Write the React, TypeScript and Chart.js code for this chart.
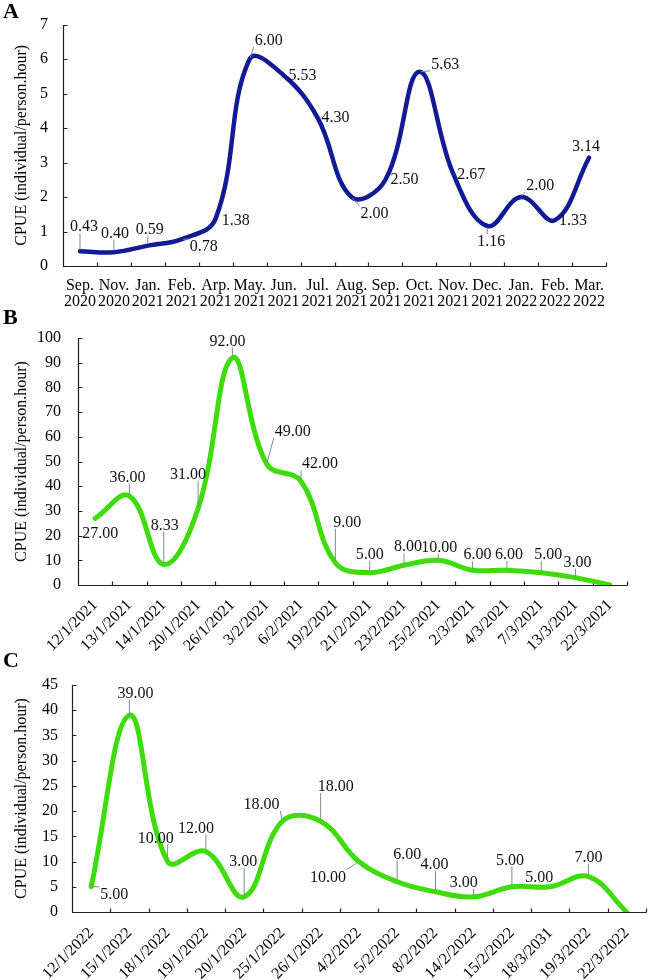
import React, { useEffect, useRef } from 'react';
import { Chart, registerables } from 'chart.js';

Chart.register(...registerables);

const FONT = '"Liberation Serif", "Times New Roman", Times, serif';
const Y_TITLE = 'CPUE (individual/person.hour)';

// ---------- Panel A ----------
const monthsA: string[][] = [
  ['Sep.', '2020'], ['Nov.', '2020'], ['Jan.', '2021'], ['Feb.', '2021'],
  ['Arp.', '2021'], ['May.', '2021'], ['Jun.', '2021'], ['Jul.', '2021'],
  ['Aug.', '2021'], ['Sep.', '2021'], ['Oct.', '2021'], ['Nov.', '2021'],
  ['Dec.', '2021'], ['Jan.', '2022'], ['Feb.', '2022'], ['Mar.', '2022'],
];
const cpueA = [0.43, 0.40, 0.59, 0.78, 1.38, 6.00, 5.53, 4.30, 2.00, 2.50, 5.63, 2.67, 1.16, 2.00, 1.33, 3.14];
const textA = ['0.43', '0.40', '0.59', '0.78', '1.38', '6.00', '5.53', '4.30', '2.00', '2.50', '5.63', '2.67', '1.16', '2.00', '1.33', '3.14'];

// ---------- Panel B ----------
const datesB = [
  '12/1/2021', '13/1/2021', '14/1/2021', '20/1/2021', '26/1/2021', '3/2/2021', '6/2/2021', '19/2/2021',
  '21/2/2021', '23/2/2021', '25/2/2021', '2/3/2021', '4/3/2021', '7/3/2021', '13/3/2021', '22/3/2021',
];
const cpueB = [27, 36, 8.33, 31, 92, 49, 42, 9, 5, 8, 10, 6, 6, 5, 3, 0];
const textB = ['27.00', '36.00', '8.33', '31.00', '92.00', '49.00', '42.00', '9.00', '5.00', '8.00', '10.00', '6.00', '6.00', '5.00', '3.00', ''];

// ---------- Panel C ----------
const datesC = [
  '12/1/2022', '15/1/2022', '18/1/2022', '19/1/2022', '20/1/2022', '25/1/2022', '26/1/2022', '4/2/2022',
  '5/2/2022', '8/2/2022', '14/2/2022', '15/2/2022', '18/3/2031', '19/3/2022', '22/3/2022',
];
const cpueC = [5, 39, 10, 12, 3, 18, 18, 10, 6, 4, 3, 5, 5, 7, 0];
const textC = ['5.00', '39.00', '10.00', '12.00', '3.00', '18.00', '18.00', '10.00', '6.00', '4.00', '3.00', '5.00', '5.00', '7.00', ''];

// label placement (pixel offsets of label centre from its point) and leader flags
const offsetsA = [[4, -25], [1, -19], [2, -17], [22, 7], [20, 1], [19, -19], [19, 0], [18, -1], [23, 16], [19, -1], [26, -8], [18, 0], [4, 15], [19, -12], [18, 0], [-3, -12]];
const leadersA = [1, 1, 1, 1, 0, 1, 0, 0, 1, 0, 1, 0, 1, 1, 0, 0];
const offsetsB = [[5, 14], [-2, -19], [1, -40], [-10, -35], [-5, -17], [26, -33], [19, -18], [12, -41], [0, -19], [4, -19], [1, -14], [5, -16], [2, -16], [7, -19], [2, -16], [0, 0]];
const leadersB = [0, 1, 1, 1, 1, 1, 1, 1, 1, 1, 1, 1, 1, 1, 1, 0];
const offsetsC = [[23, 7], [6, -22], [-12, -24], [-10, -24], [-1, -36], [-21, -17], [15, -35], [-31, 15], [10, -28], [-1, -28], [-10, -15], [-2, -27], [-11, -10], [0, -20], [0, 0]];
const leadersC = [1, 1, 1, 1, 1, 1, 1, 1, 1, 1, 1, 1, 0, 1, 0];

const axesPlugin = {
  id: 'excelAxes',
  beforeDatasetsDraw(chart: any) {
    const { ctx, chartArea } = chart;
    const xs = chart.scales.x;
    const ys = chart.scales.y;
    const L = Math.round(chartArea.left) + 0.5;
    const B = Math.round(chartArea.bottom) + 0.5;
    const R = Math.round(chartArea.right) + 0.5;
    const T = Math.round(chartArea.top);
    ctx.save();
    ctx.strokeStyle = '#222';
    ctx.lineWidth = 1.2;
    ctx.beginPath();
    ctx.moveTo(L, T);
    ctx.lineTo(L, B);
    ctx.lineTo(R, B);
    ctx.stroke();
    ctx.beginPath();
    ys.ticks.forEach((t: any) => {
      if (t.value === 0) return;
      const y = Math.round(ys.getPixelForValue(t.value)) + 0.5;
      ctx.moveTo(L, y);
      ctx.lineTo(L + 4, y);
    });
    const n = chart.data.labels.length;
    const step = n > 1 ? xs.getPixelForValue(1) - xs.getPixelForValue(0) : xs.width;
    for (let k = 1; k <= n; k++) {
      const x = Math.round(xs.getPixelForValue(k - 1) + step / 2) + 0.5;
      ctx.moveTo(x, B);
      ctx.lineTo(x, B - 4);
    }
    ctx.stroke();
    ctx.restore();
  },
};

const labelPlugin = {
  id: 'ptLabels',
  afterDatasetsDraw(chart: any, _args: any, opts: any) {
    const meta = chart.getDatasetMeta(0);
    const ctx = chart.ctx;
    ctx.save();
    ctx.font = `16px ${FONT}`;
    ctx.textAlign = 'center';
    ctx.textBaseline = 'middle';
    (opts.texts as string[]).forEach((t, i) => {
      if (!t) return;
      const p = meta.data[i];
      const [dx, dy] = opts.offsets[i];
      const cx = p.x + dx;
      const cy = p.y + dy;
      const w = ctx.measureText(t).width;
      const h = 12;
      if (opts.leaders[i]) {
        const bx = Math.max(cx - w / 2 - 1, Math.min(p.x, cx + w / 2 + 1));
        const by = Math.max(cy - h / 2 - 1, Math.min(p.y, cy + h / 2 + 1));
        const vx = p.x - bx;
        const vy = p.y - by;
        const d = Math.hypot(vx, vy);
        if (d > 3) {
          ctx.strokeStyle = '#7d8a90';
          ctx.lineWidth = 1;
          ctx.beginPath();
          ctx.moveTo(bx, by);
          ctx.lineTo(p.x - (vx / d) * 1.5, p.y - (vy / d) * 1.5);
          ctx.stroke();
        }
      }
      ctx.fillStyle = '#111';
      ctx.fillText(t, cx, cy + 1);
    });
    ctx.restore();
  },
};

type Cfg = {
  labels: any[];
  data: number[];
  color: string;
  lineWidth: number;
  max: number;
  step: number;
  rotate: number;
  yWidth: number;
  xHeight: number;
  padTop: number;
  padRight: number;
  yTickPad: number;
  xTickPad: number;
  texts: string[];
  offsets: number[][];
  leaders: number[];
};

function makeConfig(p: Cfg): any {
  return {
    type: 'line',
    data: {
      labels: p.labels,
      datasets: [
        {
          data: p.data,
          borderColor: p.color,
          borderWidth: p.lineWidth,
          tension: 0.4,
          pointRadius: 0,
          fill: false,
          borderCapStyle: 'round',
          borderJoinStyle: 'round',
        },
      ],
    },
    options: {
      responsive: false,
      animation: false,
      devicePixelRatio: 1,
      layout: { padding: { top: p.padTop, right: p.padRight, left: 0, bottom: 0 } },
      plugins: {
        legend: { display: false },
        tooltip: { enabled: false },
        ptLabels: { texts: p.texts, offsets: p.offsets, leaders: p.leaders },
      },
      scales: {
        x: {
          type: 'category',
          offset: true,
          grid: { display: false, drawTicks: false },
          border: { display: false },
          ticks: {
            autoSkip: false,
            maxRotation: p.rotate,
            minRotation: p.rotate,
            color: '#000',
            font: { family: FONT, size: 16, lineHeight: 1 },
            padding: p.xTickPad,
          },
          afterFit: (s: any) => {
            s.height = p.xHeight;
          },
        },
        y: {
          min: 0,
          max: p.max,
          grid: { display: false, drawTicks: false },
          border: { display: false },
          ticks: { stepSize: p.step, color: '#000', font: { family: FONT, size: 16 }, padding: p.yTickPad },
          title: {
            display: true,
            text: Y_TITLE,
            color: '#000',
            font: { family: FONT, size: 16, lineHeight: 1.2 },
            padding: { top: 12, bottom: 0 },
          },
          afterFit: (s: any) => {
            s.width = p.yWidth;
          },
        },
      },
    },
    plugins: [axesPlugin, labelPlugin],
  };
}

function Panel({ top, height, cfg }: { top: number; height: number; cfg: Cfg }) {
  const ref = useRef<HTMLCanvasElement>(null);
  useEffect(() => {
    const chart = new Chart(ref.current as HTMLCanvasElement, makeConfig(cfg));
    return () => chart.destroy();
  }, []);
  return (
    <canvas
      ref={ref}
      width={651}
      height={height}
      style={{ position: 'absolute', left: 0, top, width: 651, height, display: 'block' }}
    />
  );
}

const letterStyle = (top: number): React.CSSProperties => ({
  position: 'absolute',
  left: 3,
  top,
  fontFamily: FONT,
  fontWeight: 'bold',
  fontSize: 22,
  lineHeight: 1,
  color: '#000',
});

export default function App() {
  return (
    <div style={{ position: 'absolute', left: 0, top: 0, width: 651, height: 980, background: '#fff', overflow: 'hidden' }}>
      <Panel
        top={0}
        height={310}
        cfg={{
          labels: monthsA, data: cpueA, color: '#121a94', lineWidth: 4.5, max: 7, step: 1, rotate: 0,
          yWidth: 63, xHeight: 44, padTop: 12, padRight: 45, yTickPad: 15, xTickPad: 12,
          texts: textA, offsets: offsetsA, leaders: leadersA,
        }}
      />
      <Panel
        top={305}
        height={350}
        cfg={{
          labels: datesB, data: cpueB, color: '#3ddc0a', lineWidth: 5, max: 100, step: 10, rotate: 45,
          yWidth: 78, xHeight: 70, padTop: 33, padRight: 24, yTickPad: 17, xTickPad: 12,
          texts: textB, offsets: offsetsB, leaders: leadersB,
        }}
      />
      <Panel
        top={650}
        height={330}
        cfg={{
          labels: datesC, data: cpueC, color: '#3ddc0a', lineWidth: 5, max: 45, step: 5, rotate: 45,
          yWidth: 72, xHeight: 68, padTop: 35, padRight: 1, yTickPad: 14, xTickPad: 13,
          texts: textC, offsets: offsetsC, leaders: leadersC,
        }}
      />
      <div style={letterStyle(0)}>A</div>
      <div style={letterStyle(306)}>B</div>
      <div style={letterStyle(649)}>C</div>
    </div>
  );
}
